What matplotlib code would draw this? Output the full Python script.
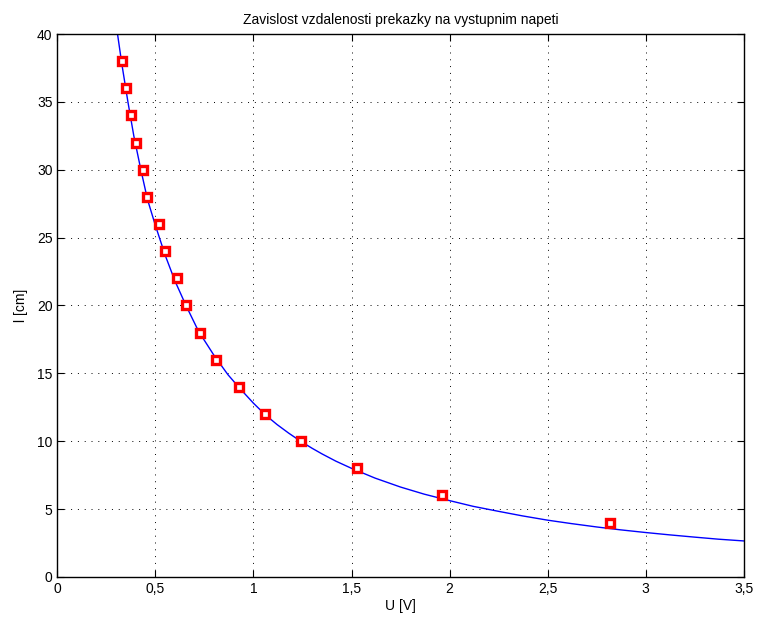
import matplotlib
matplotlib.use("Agg")
import matplotlib.pyplot as plt
from matplotlib.ticker import FuncFormatter

# measured points
U_meas = [0.328, 0.348, 0.374, 0.403, 0.435, 0.455, 0.520, 0.550, 0.610,
          0.654, 0.729, 0.808, 0.927, 1.061, 1.240, 1.528, 1.963, 2.816]
l_meas = [38, 36, 34, 32, 30, 28, 26, 24, 22, 20, 18, 16, 14, 12, 10, 8, 6, 4]

# fitted curve
U_fit = [0.307, 0.33, 0.36, 0.39, 0.426, 0.46, 0.50, 0.55, 0.60, 0.656,
         0.72, 0.80, 0.87, 0.93, 1.0, 1.06, 1.12, 1.18, 1.24, 1.30, 1.35,
         1.42, 1.5, 1.62, 1.75, 1.87, 2.0, 2.12, 2.25, 2.37, 2.5, 2.62,
         2.75, 2.87, 3.0, 3.12, 3.25, 3.37, 3.5]
l_fit = [40.0, 37.7, 35.0, 32.5, 30.0, 27.8, 25.9, 23.7, 21.8, 20.0,
         18.1, 16.3, 14.9, 13.9, 12.8, 11.95, 11.23, 10.59, 10.0, 9.47, 9.06,
         8.53, 8.0, 7.28, 6.62, 6.1, 5.62, 5.2, 4.83, 4.5, 4.18, 3.93,
         3.68, 3.47, 3.27, 3.1, 2.93, 2.78, 2.65]

xticks = [0, 0.5, 1, 1.5, 2, 2.5, 3, 3.5]
yticks = [0, 5, 10, 15, 20, 25, 30, 35, 40]

plt.rcParams['font.family'] = ['Liberation Sans', 'DejaVu Sans']

fig = plt.figure(figsize=(7.59, 6.19), dpi=100)
ax = fig.add_axes([0.0755, 0.068, 0.9045, 0.877])

ax.plot(U_fit, l_fit, color='b', lw=1)
ax.plot(U_meas, l_meas, 's', ms=6, mew=2.4, mec='r', mfc='w')

ax.set_xlim(0, 3.5)
ax.set_ylim(0, 40)
ax.set_xticks(xticks)
ax.set_yticks(yticks)
comma = FuncFormatter(lambda v, p: ('%g' % v).replace('.', ','))
ax.xaxis.set_major_formatter(comma)
ax.yaxis.set_major_formatter(comma)
ax.tick_params(direction='in', top=True, right=True, labelsize=10, length=5)
ax.grid(True, color='k', linestyle=(0, (1, 6)), lw=0.7)
for s in ax.spines.values():
    s.set_linewidth(1)

ax.set_xlabel('U [V]', fontsize=10, labelpad=2)
ax.set_ylabel('l [cm]', fontsize=10, labelpad=6)
ax.set_title('Zavislost vzdalenosti prekazky na vystupnim napeti', fontsize=10, pad=7)

fig.savefig('out.png', dpi=100)
plt.close(fig)
